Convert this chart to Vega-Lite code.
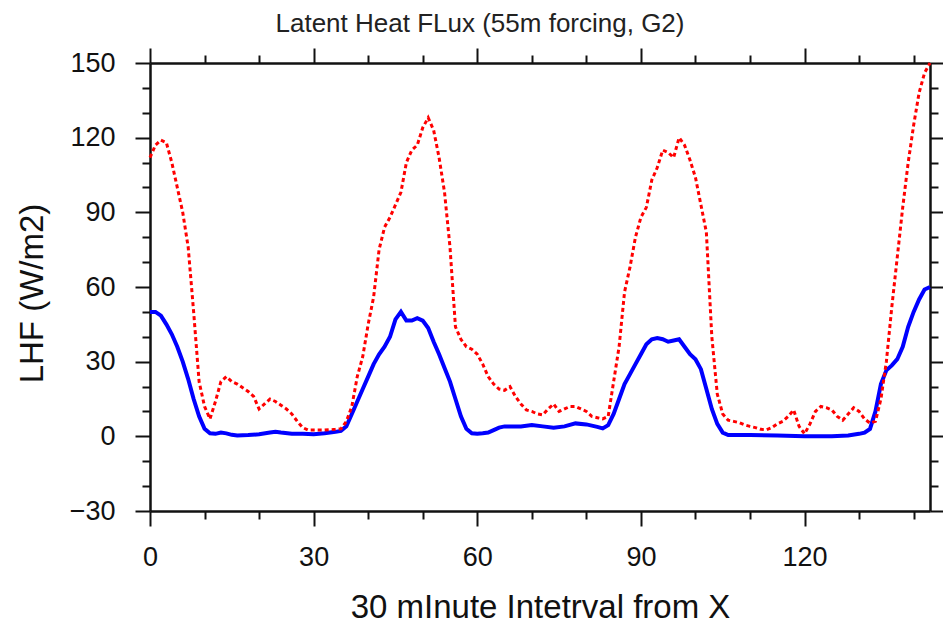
{
  "$schema": "https://vega.github.io/schema/vega-lite/v6.json",
  "width": 780,
  "height": 448,
  "autosize": {"type": "none"},
  "padding": {"left": 150, "top": 63, "right": 13, "bottom": 114},
  "background": "white",
  "config": {
    "view": {"stroke": null},
    "font": "Liberation Sans",
    "axis": {"grid": false, "domainColor": "#111", "tickColor": "#111", "labelColor": "#111", "titleColor": "#111", "domainWidth": 2.5, "tickWidth": 2, "titleFontWeight": "normal", "labelFont": "Liberation Sans", "titleFont": "Liberation Sans"}
  },
  "title": {
    "text": "Latent Heat FLux (55m forcing, G2)",
    "fontSize": 26,
    "fontWeight": "normal",
    "font": "Liberation Sans",
    "color": "#222",
    "anchor": "middle",
    "frame": "group",
    "baseline": "alphabetic",
    "offset": 16,
    "dx": -60,
    "dy": 27
  },
  "datasets": {
    "solid": [
      {"interval":0,"lhf":50},{"interval":1,"lhf":50},{"interval":2,"lhf":48.5},{"interval":3,"lhf":45},{"interval":4,"lhf":41},{"interval":5,"lhf":36},{"interval":6,"lhf":30},{"interval":7,"lhf":23},{"interval":8,"lhf":15},{"interval":9,"lhf":8},{"interval":10,"lhf":3},{"interval":11,"lhf":1.2},{"interval":12,"lhf":1},{"interval":13,"lhf":1.5},{"interval":14,"lhf":1.2},{"interval":15,"lhf":0.6},{"interval":16,"lhf":0.3},{"interval":18,"lhf":0.5},{"interval":20,"lhf":0.8},{"interval":22,"lhf":1.5},{"interval":23,"lhf":1.8},{"interval":24,"lhf":1.5},{"interval":26,"lhf":1},{"interval":28,"lhf":1},{"interval":30,"lhf":0.8},{"interval":32,"lhf":1.2},{"interval":34,"lhf":1.8},{"interval":35,"lhf":2.2},{"interval":36,"lhf":4},{"interval":37,"lhf":9},{"interval":38,"lhf":14},{"interval":39,"lhf":19},{"interval":40,"lhf":24},{"interval":41,"lhf":29},{"interval":42,"lhf":33},{"interval":43,"lhf":36},{"interval":44,"lhf":40},{"interval":45,"lhf":47},{"interval":46,"lhf":50},{"interval":47,"lhf":46.5},{"interval":48,"lhf":46.5},{"interval":49,"lhf":47.5},{"interval":50,"lhf":46.5},{"interval":51,"lhf":43.5},{"interval":52,"lhf":38},{"interval":53,"lhf":33},{"interval":54,"lhf":27.5},{"interval":55,"lhf":22},{"interval":56,"lhf":15},{"interval":57,"lhf":8},{"interval":58,"lhf":3},{"interval":59,"lhf":1.2},{"interval":60,"lhf":1},{"interval":61,"lhf":1.2},{"interval":62,"lhf":1.5},{"interval":63,"lhf":2.5},{"interval":64,"lhf":3.5},{"interval":65,"lhf":4},{"interval":66,"lhf":4},{"interval":68,"lhf":4},{"interval":70,"lhf":4.5},{"interval":72,"lhf":4},{"interval":74,"lhf":3.5},{"interval":76,"lhf":4},{"interval":78,"lhf":5.2},{"interval":80,"lhf":4.8},{"interval":82,"lhf":3.8},{"interval":83,"lhf":3.2},{"interval":84,"lhf":4.5},{"interval":85,"lhf":9},{"interval":86,"lhf":15},{"interval":87,"lhf":21},{"interval":88,"lhf":25},{"interval":89,"lhf":29},{"interval":90,"lhf":33},{"interval":91,"lhf":37},{"interval":92,"lhf":39},{"interval":93,"lhf":39.5},{"interval":94,"lhf":39},{"interval":95,"lhf":38},{"interval":96,"lhf":38.5},{"interval":97,"lhf":39},{"interval":98,"lhf":36},{"interval":99,"lhf":33},{"interval":100,"lhf":31},{"interval":101,"lhf":27},{"interval":102,"lhf":19},{"interval":103,"lhf":11},{"interval":104,"lhf":5},{"interval":105,"lhf":1.5},{"interval":106,"lhf":0.5},{"interval":108,"lhf":0.5},{"interval":110,"lhf":0.5},{"interval":115,"lhf":0.3},{"interval":120,"lhf":0},{"interval":125,"lhf":0},{"interval":128,"lhf":0.3},{"interval":130,"lhf":1},{"interval":131,"lhf":1.5},{"interval":132,"lhf":3},{"interval":133,"lhf":10},{"interval":134,"lhf":21},{"interval":135,"lhf":26.5},{"interval":136,"lhf":28.5},{"interval":137,"lhf":31},{"interval":138,"lhf":36},{"interval":139,"lhf":44},{"interval":140,"lhf":50},{"interval":141,"lhf":55},{"interval":142,"lhf":59},{"interval":143,"lhf":60}
    ],
    "dotted": [
      {"interval":0,"lhf":112},{"interval":1,"lhf":117},{"interval":2,"lhf":119},{"interval":3,"lhf":118},{"interval":4,"lhf":110},{"interval":5,"lhf":100},{"interval":6,"lhf":90},{"interval":7,"lhf":76},{"interval":8,"lhf":50},{"interval":9,"lhf":22},{"interval":10,"lhf":12},{"interval":11,"lhf":7},{"interval":12,"lhf":14},{"interval":13,"lhf":22},{"interval":14,"lhf":24},{"interval":15,"lhf":22},{"interval":16,"lhf":21},{"interval":17,"lhf":19.5},{"interval":18,"lhf":18},{"interval":19,"lhf":16},{"interval":20,"lhf":11},{"interval":21,"lhf":13},{"interval":22,"lhf":15},{"interval":23,"lhf":14},{"interval":24,"lhf":12.5},{"interval":25,"lhf":11},{"interval":26,"lhf":9},{"interval":27,"lhf":6},{"interval":28,"lhf":3.5},{"interval":29,"lhf":2.5},{"interval":30,"lhf":2.5},{"interval":32,"lhf":2.5},{"interval":34,"lhf":2.8},{"interval":35,"lhf":3},{"interval":36,"lhf":6},{"interval":37,"lhf":12},{"interval":38,"lhf":24},{"interval":39,"lhf":32},{"interval":40,"lhf":45},{"interval":41,"lhf":56},{"interval":42,"lhf":75},{"interval":43,"lhf":84},{"interval":44,"lhf":88},{"interval":45,"lhf":93},{"interval":46,"lhf":98},{"interval":47,"lhf":110},{"interval":48,"lhf":115},{"interval":49,"lhf":117},{"interval":50,"lhf":124},{"interval":51,"lhf":128},{"interval":52,"lhf":123},{"interval":53,"lhf":112},{"interval":54,"lhf":98},{"interval":55,"lhf":76},{"interval":56,"lhf":44},{"interval":57,"lhf":39},{"interval":58,"lhf":36},{"interval":59,"lhf":35},{"interval":60,"lhf":33},{"interval":61,"lhf":29},{"interval":62,"lhf":24},{"interval":63,"lhf":21},{"interval":64,"lhf":19},{"interval":65,"lhf":18.5},{"interval":66,"lhf":20},{"interval":67,"lhf":16},{"interval":68,"lhf":13},{"interval":69,"lhf":10.6},{"interval":70,"lhf":10},{"interval":71,"lhf":9},{"interval":72,"lhf":8.6},{"interval":73,"lhf":11},{"interval":74,"lhf":13},{"interval":75,"lhf":10},{"interval":76,"lhf":11},{"interval":77,"lhf":12},{"interval":78,"lhf":12},{"interval":79,"lhf":11},{"interval":80,"lhf":10},{"interval":81,"lhf":8},{"interval":82,"lhf":7.5},{"interval":83,"lhf":7},{"interval":84,"lhf":8},{"interval":85,"lhf":22},{"interval":86,"lhf":36},{"interval":87,"lhf":58},{"interval":88,"lhf":68},{"interval":89,"lhf":80},{"interval":90,"lhf":88},{"interval":91,"lhf":92},{"interval":92,"lhf":103},{"interval":93,"lhf":108},{"interval":94,"lhf":115},{"interval":95,"lhf":114},{"interval":96,"lhf":112},{"interval":97,"lhf":120},{"interval":98,"lhf":117},{"interval":99,"lhf":111},{"interval":100,"lhf":104},{"interval":101,"lhf":93},{"interval":102,"lhf":82},{"interval":103,"lhf":40},{"interval":104,"lhf":17},{"interval":105,"lhf":9},{"interval":106,"lhf":6.5},{"interval":107,"lhf":6},{"interval":108,"lhf":5.5},{"interval":109,"lhf":4.6},{"interval":110,"lhf":4},{"interval":111,"lhf":3.5},{"interval":112,"lhf":2.8},{"interval":113,"lhf":2.6},{"interval":114,"lhf":3.5},{"interval":115,"lhf":5},{"interval":116,"lhf":6},{"interval":117,"lhf":8},{"interval":118,"lhf":10.6},{"interval":119,"lhf":4},{"interval":120,"lhf":1},{"interval":121,"lhf":5},{"interval":122,"lhf":10},{"interval":123,"lhf":12},{"interval":124,"lhf":11.5},{"interval":125,"lhf":10.6},{"interval":126,"lhf":8},{"interval":127,"lhf":6.5},{"interval":128,"lhf":9},{"interval":129,"lhf":11.5},{"interval":130,"lhf":10},{"interval":131,"lhf":7},{"interval":132,"lhf":5.3},{"interval":133,"lhf":6},{"interval":134,"lhf":15},{"interval":135,"lhf":30},{"interval":136,"lhf":52},{"interval":137,"lhf":72},{"interval":138,"lhf":92},{"interval":139,"lhf":110},{"interval":140,"lhf":125},{"interval":141,"lhf":138},{"interval":142,"lhf":146},{"interval":143,"lhf":150}
    ]
  },
  "layer": [
    {
      "data": {"name": "solid"},
      "mark": {"type": "line", "color": "#0000ff", "strokeWidth": 4},
      "encoding": {
        "x": {
          "field": "interval", "type": "quantitative",
          "scale": {"domain": [0, 143], "nice": false, "zero": false},
          "axis": {
            "orient": "bottom",
            "values": [0,10,20,30,40,50,60,70,80,90,100,110,120,130,140],
            "labelExpr": "datum.value % 30 === 0 ? datum.label : ''",
            "tickSize": {"condition": {"test": "datum.value % 30 === 0", "value": 15}, "value": 8},
            "labelFontSize": 27, "labelPadding": 18, "labelOverlap": false, "labelFlush": false,
            "title": "30 mInute Intetrval from X", "titleFontSize": 33,
            "titleBaseline": "alphabetic", "titleY": 106, "titleX": 390, "titleAlign": "center"
          }
        },
        "y": {
          "field": "lhf", "type": "quantitative",
          "scale": {"domain": [-30, 150], "nice": false, "zero": false},
          "axis": {
            "orient": "left",
            "values": [-30,-20,-10,0,10,20,30,40,50,60,70,80,90,100,110,120,130,140,150],
            "labelExpr": "datum.value % 30 === 0 ? datum.label : ''",
            "tickSize": {"condition": {"test": "datum.value % 30 === 0", "value": 15}, "value": 8},
            "labelFontSize": 27, "labelPadding": 20, "labelOverlap": false, "labelFlush": false,
            "title": "LHF (W/m2)", "titleFontSize": 33, "titleAngle": -90,
            "titleBaseline": "alphabetic", "titleX": -108, "titleY": 230, "titleAlign": "center"
          }
        }
      }
    },
    {
      "data": {"name": "dotted"},
      "mark": {"type": "line", "color": "#ff0000", "strokeWidth": 3, "strokeDash": [4, 3]},
      "encoding": {
        "x": {
          "field": "interval", "type": "quantitative",
          "scale": {"domain": [0, 143], "nice": false, "zero": false},
          "axis": {
            "orient": "top",
            "values": [0,10,20,30,40,50,60,70,80,90,100,110,120,130,140],
            "labels": false, "title": null,
            "tickSize": {"condition": {"test": "datum.value % 30 === 0", "value": 15}, "value": 8}
          }
        },
        "y": {
          "field": "lhf", "type": "quantitative",
          "scale": {"domain": [-30, 150], "nice": false, "zero": false},
          "axis": {
            "orient": "right",
            "values": [-30,-20,-10,0,10,20,30,40,50,60,70,80,90,100,110,120,130,140,150],
            "labels": false, "title": null,
            "tickSize": {"condition": {"test": "datum.value % 30 === 0", "value": 15}, "value": 8}
          }
        }
      }
    }
  ],
  "resolve": {"axis": {"x": "independent", "y": "independent"}}
}
